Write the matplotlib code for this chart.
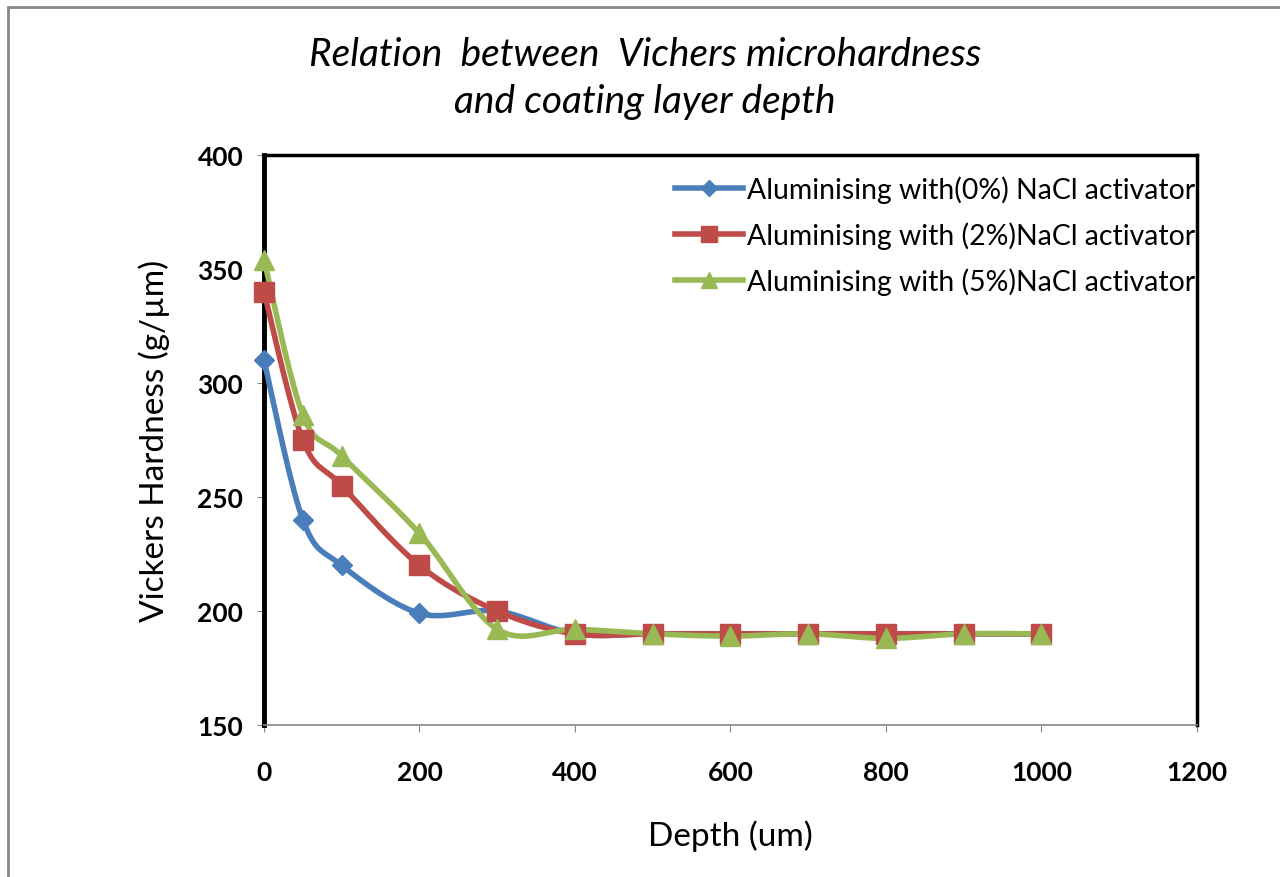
import numpy as np
import matplotlib
matplotlib.use("Agg")
import matplotlib.pyplot as plt
from matplotlib.patches import Rectangle

depth = [0, 50, 100, 200, 300, 400, 500, 600, 700, 800, 900, 1000]
hv_0 = [310, 240, 220, 199, 200, 190, 190, 190, 190, 190, 190, 190]
hv_2 = [340, 275, 255, 220, 200, 190, 190, 190, 190, 190, 190, 190]
hv_5 = [354, 286, 268, 234, 192, 192, 190, 189, 190, 188, 190, 190]
labels = ["Aluminising with(0%) NaCl activator",
          "Aluminising with (2%)NaCl activator",
          "Aluminising with (5%)NaCl activator"]
colors = ["#4a7ebb", "#be4b48", "#98b954"]
markers = ["D", "s", "^"]
msizes = [10, 14, 14]


def smooth(x, y, n=20):
    # catmull-rom style curve through the points (like excel smoothed line)
    x = np.asarray(x, float)
    y = np.asarray(y, float)
    xs, ys = [], []
    for i in range(len(x) - 1):
        p0 = np.array([x[i - 1] if i > 0 else x[i], y[i - 1] if i > 0 else y[i]])
        p1 = np.array([x[i], y[i]])
        p2 = np.array([x[i + 1], y[i + 1]])
        p3 = np.array([x[i + 2], y[i + 2]]) if i + 2 < len(x) else p2
        t = np.linspace(0, 1, n)[:, None]
        c1 = p1 + (p2 - p0) / 6
        c2 = p2 - (p3 - p1) / 6
        pts = (1 - t) ** 3 * p1 + 3 * (1 - t) ** 2 * t * c1 + 3 * (1 - t) * t ** 2 * c2 + t ** 3 * p2
        xs.extend(pts[:, 0])
        ys.extend(pts[:, 1])
    return xs, ys


plt.rcParams['font.family'] = ['Lato', 'DejaVu Sans']
fig = plt.figure(figsize=(12.8, 8.78), dpi=100)
ax = fig.add_axes([0.20625, 0.1731, 0.72875, 0.6492])

for ys, lab, c, m, ms in zip([hv_0, hv_2, hv_5], labels, colors, markers, msizes):
    sx, sy = smooth(depth, ys)
    ax.plot(sx, sy, color=c, lw=4, zorder=3, clip_on=False)
    ax.plot(depth, ys, linestyle='none', marker=m, ms=ms, color=c, zorder=4, clip_on=False)
    ax.plot([], [], color=c, lw=4, marker=m, ms=ms * 0.8, label=lab)

ax.set_xlim(0, 1200)
ax.set_ylim(150, 400)
ax.set_xticks(range(0, 1201, 200))
ax.set_yticks(range(150, 401, 50))
for t in ax.get_xticklabels() + ax.get_yticklabels():
    t.set_fontweight('bold')
    t.set_fontsize(19)
ax.tick_params(axis='x', length=5, color='#888888', pad=20)
ax.tick_params(axis='y', length=5, color='#888888', pad=10)

ax.spines['left'].set_linewidth(3.5)
ax.spines['top'].set_linewidth(2.5)
ax.spines['right'].set_linewidth(2.5)
ax.spines['bottom'].set_color('#888888')
ax.spines['bottom'].set_linewidth(1.2)

ax.set_xlabel("Depth (um)", fontsize=24, labelpad=26)
ax.set_ylabel("Vickers Hardness (g/\u00b5m)", fontsize=24, labelpad=20)

fig.text(0.504, 0.937, "Relation  between  Vichers microhardness", fontsize=28,
         style='italic', ha='center', va='center')
fig.text(0.504, 0.884, "and coating layer depth", fontsize=28,
         style='italic', ha='center', va='center')

leg = ax.legend(loc='upper left', bbox_to_anchor=(0.428, 0.985), frameon=False,
                fontsize=20.4, handlelength=2.4, handletextpad=0.15, labelspacing=0.65,
                borderaxespad=0)
for t in leg.get_texts():
    t.set_clip_box(ax.bbox)
    t.set_clip_on(True)

fig.patches.append(Rectangle((0.00625, -0.05), 1.1, 1.0409, transform=fig.transFigure,
                             fill=False, edgecolor='#888888', lw=2))

fig.savefig("out.png", dpi=100)
